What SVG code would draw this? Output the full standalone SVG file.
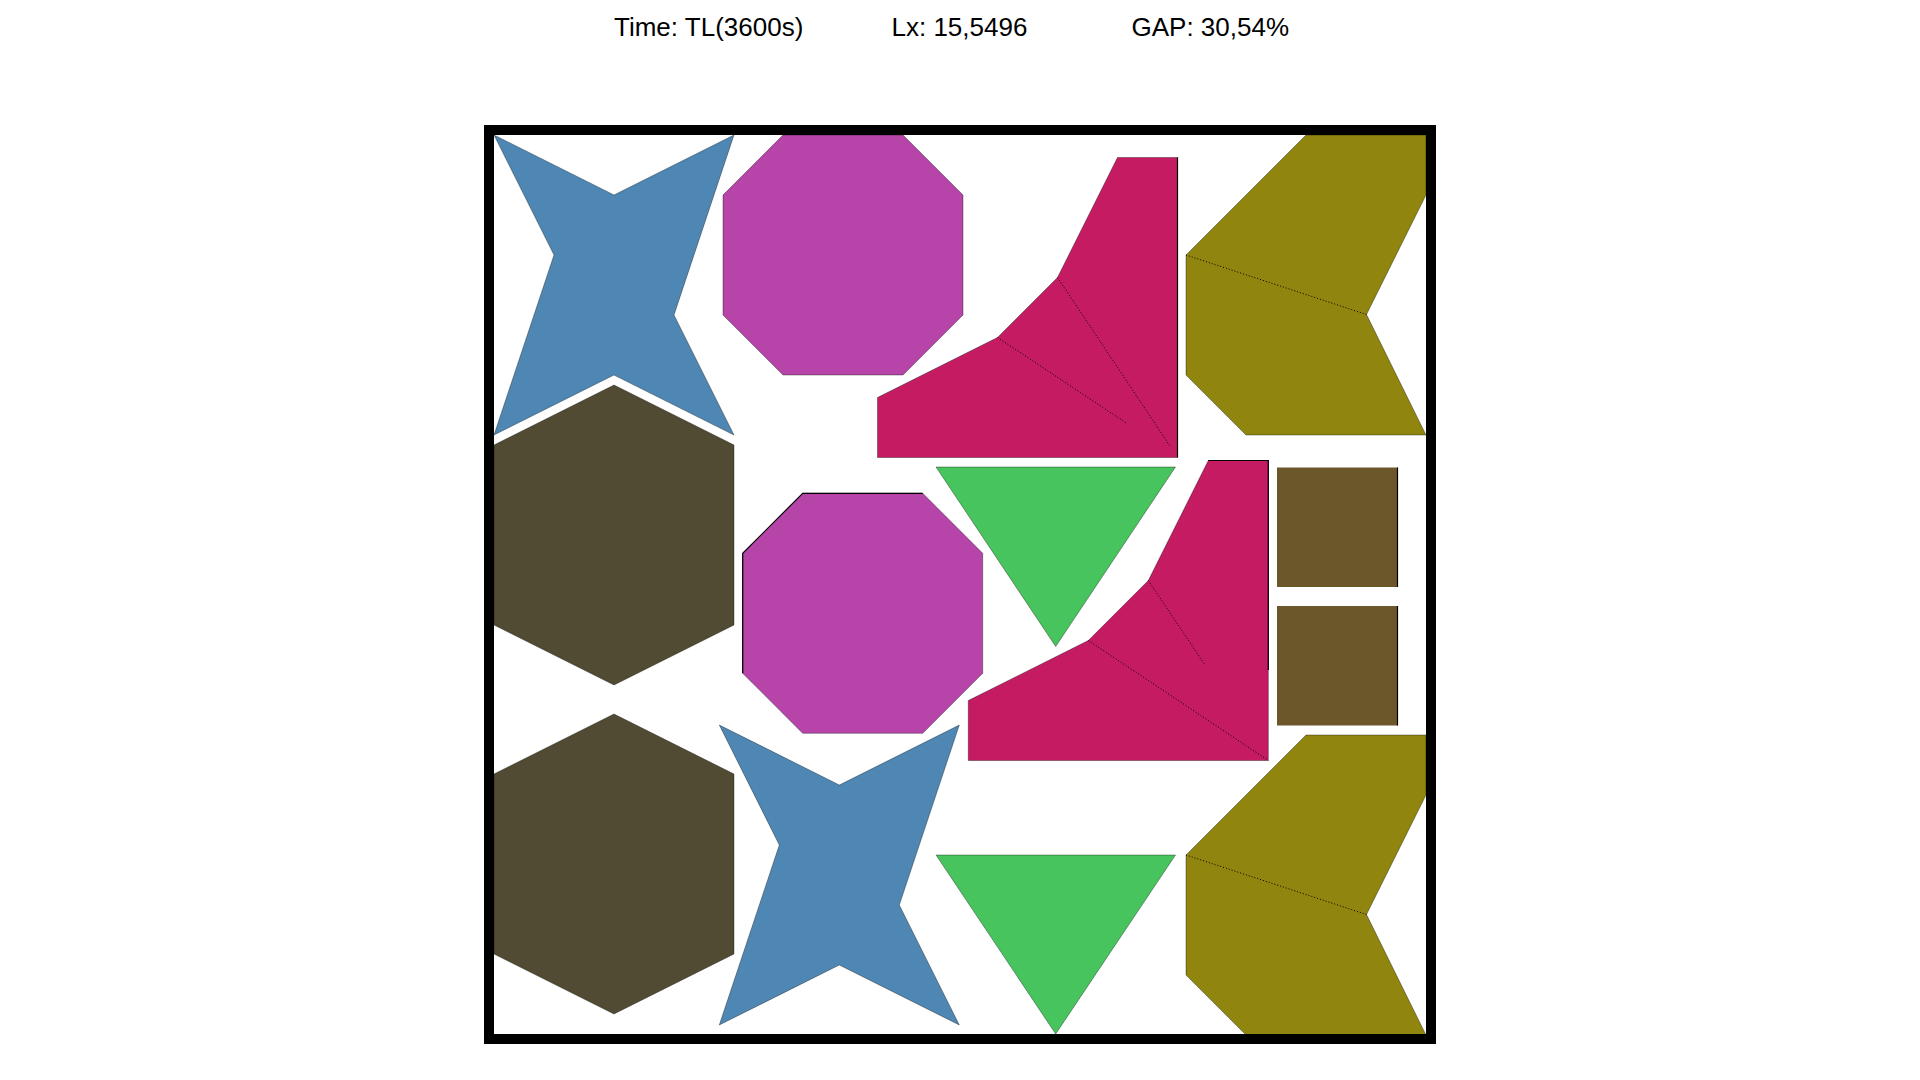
<svg xmlns="http://www.w3.org/2000/svg" width="1920" height="1080" viewBox="0 0 1920 1080">
<style>
.lbl{font-family:"Liberation Sans",Arial,sans-serif;font-size:26px;fill:#000}
.edge{stroke:#000;stroke-width:0.5;stroke-opacity:0.7}
.star{fill:#4f87b4}
.oct{fill:#b745a9}
.pink{fill:#c51b63}
.tri{fill:#47c45e}
.hex{fill:#514b33}
.sq{fill:#6c572b}
.chev{fill:#8f850f}
.dot{stroke:#000;stroke-width:1;stroke-dasharray:1 2;fill:none}
.sol{stroke:#000;stroke-width:1.2;fill:none}
</style>
<rect x="0" y="0" width="1920" height="1080" fill="#fff"/>
<g id="header">
<text class="lbl" x="614" y="36">Time: TL(3600s)</text>
<text class="lbl" x="891.5" y="36">Lx: 15,5496</text>
<text class="lbl" x="1131.5" y="36">GAP: 30,54%</text>
</g>
<g id="star1"><polygon class="star edge" points="494,135 614,195 734,135 674,315 734,435 614,375 494,435 554,255"/></g>
<g id="star2"><polygon class="star edge" points="719.3,725 839.3,785 959.3,725 899.3,905 959.3,1025 839.3,965 719.3,1025 779.3,845"/></g>
<g id="octagon1"><polygon class="oct edge" points="783,135 903,135 963,195 963,315 903,375 783,375 723,315 723,195"/></g>
<g id="octagon2"><polygon class="oct edge" points="802.7,493.3 922.7,493.3 982.7,553.3 982.7,673.3 922.7,733.3 802.7,733.3 742.7,673.3 742.7,553.3"/>
<polyline class="sol" points="742.7,673.3 742.7,553.3 802.7,493.3 922.7,493.3"/></g>
<g id="hexagon1"><polygon class="hex edge" points="614,385 734,445 734,625 614,685 494,625 494,445"/></g>
<g id="hexagon2"><polygon class="hex edge" points="614,714 734,774 734,954 614,1014 494,954 494,774"/></g>
<g id="pink1"><polygon class="pink edge" points="877.5,397.5 997.5,337.5 1057.5,277.5 1117.5,157.5 1177.5,157.5 1177.5,457.5 877.5,457.5"/>
<line class="sol" x1="1177.5" y1="157.5" x2="1177.5" y2="457.5"/>
<line class="dot" x1="997.5" y1="337.5" x2="1127" y2="423.5"/>
<line class="dot" x1="1057.5" y1="277.5" x2="1170" y2="446"/></g>
<g id="pink2"><polygon class="pink edge" points="968.3,700.5 1088.3,640.5 1148.3,580.5 1208.3,460.5 1268.3,460.5 1268.3,760.5 968.3,760.5"/>
<polyline class="sol" points="1208.3,460.5 1268.3,460.5 1268.3,670"/>
<line class="dot" x1="1088.3" y1="640.5" x2="1268.3" y2="760.5"/>
<line class="dot" x1="1148.3" y1="580.5" x2="1205" y2="665"/></g>
<g id="triangle1"><polygon class="tri edge" points="936,467 1175.5,467 1055.7,646.5"/></g>
<g id="triangle2"><polygon class="tri edge" points="936,855 1175.5,855 1055.7,1034"/></g>
<g id="square1"><rect class="sq" x="1277" y="467.5" width="120.5" height="119.5"/><line class="sol" x1="1397.5" y1="467.5" x2="1397.5" y2="587"/></g>
<g id="square2"><rect class="sq" x="1277" y="606" width="120.5" height="119.5"/><line class="sol" x1="1397.5" y1="606" x2="1397.5" y2="725.5"/></g>
<g id="chevron1"><polygon class="chev edge" points="1306,135 1426,135 1426,195 1366.5,314.5 1426,435 1246,435 1186,375 1186,255"/>
<line class="dot" x1="1186" y1="255" x2="1366.5" y2="314.5"/></g>
<g id="chevron2"><polygon class="chev edge" points="1306,735 1426,735 1426,795 1366.5,914.5 1426,1035 1246,1035 1186,975 1186,855"/>
<line class="dot" x1="1186" y1="855" x2="1366.5" y2="914.5"/></g>
<g id="container"><rect x="489" y="130" width="942" height="909" fill="none" stroke="#000" stroke-width="10"/></g>
</svg>
